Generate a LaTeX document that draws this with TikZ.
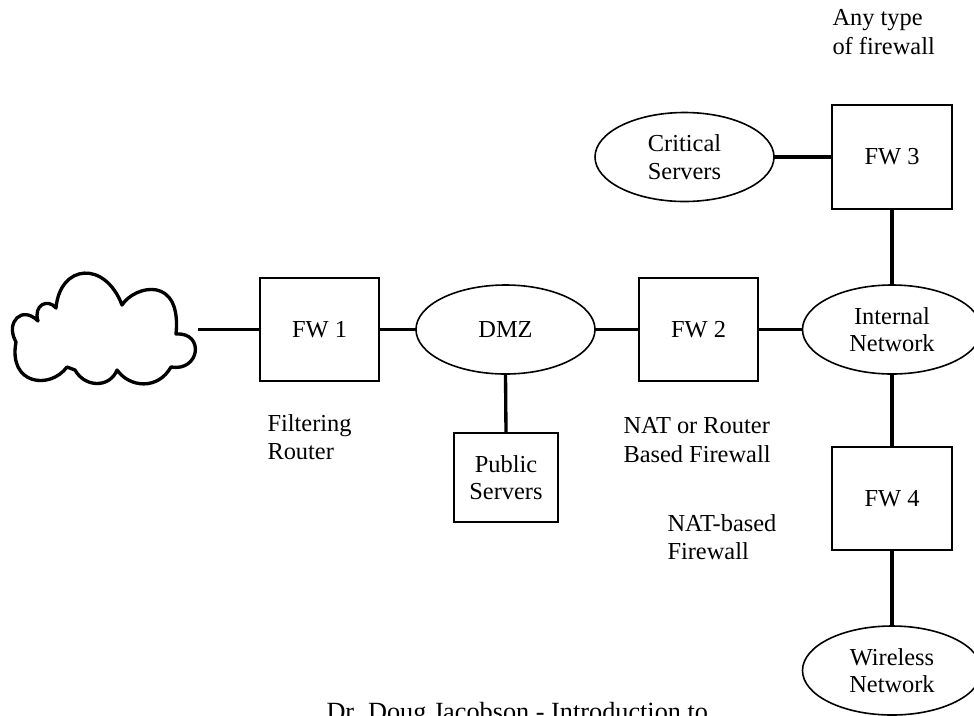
\documentclass[tikz,border=0pt]{standalone}
\usepackage{fontspec}
\setmainfont{Liberation Serif}
\usetikzlibrary{shapes.geometric}

\tikzset{every picture/.style={line width=0.75pt}}
\tikzset{
  fwbox/.style={draw,line width=1.3pt,inner sep=0pt,outer sep=0pt,minimum width=119.5pt*0.75,minimum height=103.5pt*0.75,font=\fontsize{18.3}{20.5}\selectfont,align=center},
  netoval/.style={draw,ellipse,line width=1.2pt,inner sep=0pt,outer sep=0pt,minimum width=179pt*0.75,minimum height=89pt*0.75,font=\fontsize{18.3}{20.5}\selectfont,align=center},
  lbl/.style={anchor=west,inner sep=0pt,font=\fontsize{18.3}{21.5}\selectfont,align=left},
  link/.style={line width=2.5pt}
}

\begin{document}
\begin{tikzpicture}[x=0.75pt,y=0.75pt,yscale=-1,xscale=1]
	\useasboundingbox (0,0) rectangle (974,715);
	\clip (0,0) rectangle (974,715);

	%Shape: Cloud
	\draw [line width=2.5pt,line join=round] (15,340) .. controls (6,322) and (22,305) .. (38,321) .. controls (33,305) and (48,298) .. (56,308) .. controls (60,264) and (105,260) .. (122,305) .. controls (135,285) and (182,275) .. (176,334) .. controls (205,332) and (200,372) .. (171,367) .. controls (158,390) and (130,388) .. (117,370) .. controls (110,388) and (85,388) .. (75,370) -- (67,367) .. controls (50,390) and (8,385) .. (16,342) -- cycle ;
	\coordinate (cloudend) at (198,329.5);

	%Shape: Rectangle
	\node [fwbox] (fw1) at (319.5,329.5) {FW 1};
	\node [fwbox] (fw2) at (698.5,329.5) {FW 2};
	\node [fwbox] (fw3) at (892,157) {FW 3};
	\node [fwbox] (fw4) at (892,498.5) {FW 4};
	\node [fwbox,minimum width=78pt,minimum height=66.75pt] (public) at (506,477.5) {Public\\Servers};

	%Shape: Ellipse
	\node [netoval] (dmz) at (505.5,329.5) {DMZ};
	\node [netoval] (critical) at (684.5,157) {Critical\\Servers};
	\node [netoval] (internal) at (892,329.5) {Internal\\Network};
	\node [netoval] (wireless) at (892,670.5) {Wireless\\Network};

	%Straight Lines
	\draw [link] (cloudend) -- (fw1.west) ;
	\draw [link] (fw1.east) -- (dmz.west) ;
	\draw [link] (dmz.east) -- (fw2.west) ;
	\draw [link] (fw2.east) -- (internal.west) ;
	\draw [link] (dmz.south) -- (public.north) ;
	\draw [link] (critical.east) -- (fw3.west) ;
	\draw [link] (fw3.south) -- (internal.north) ;
	\draw [link] (internal.south) -- (fw4.north) ;
	\draw [link] (fw4.south) -- (wireless.north) ;

	% Text Node
	\node [lbl] (anytype) at (832,32) {Any type\\of firewall};
	% Text Node
	\node [lbl] (filtering) at (267,437) {Filtering\\Router};
	% Text Node
	\node [lbl] (natrouter) at (623,440) {NAT or Router\\Based Firewall};
	% Text Node
	\node [lbl] (natbased) at (667,537) {NAT-based\\Firewall};
	% Text Node
	\node [anchor=base west,inner sep=0pt,font=\fontsize{19.7}{22}\selectfont] (credit) at (326,720) {Dr. Doug Jacobson - Introduction to};
\end{tikzpicture}
\end{document}
